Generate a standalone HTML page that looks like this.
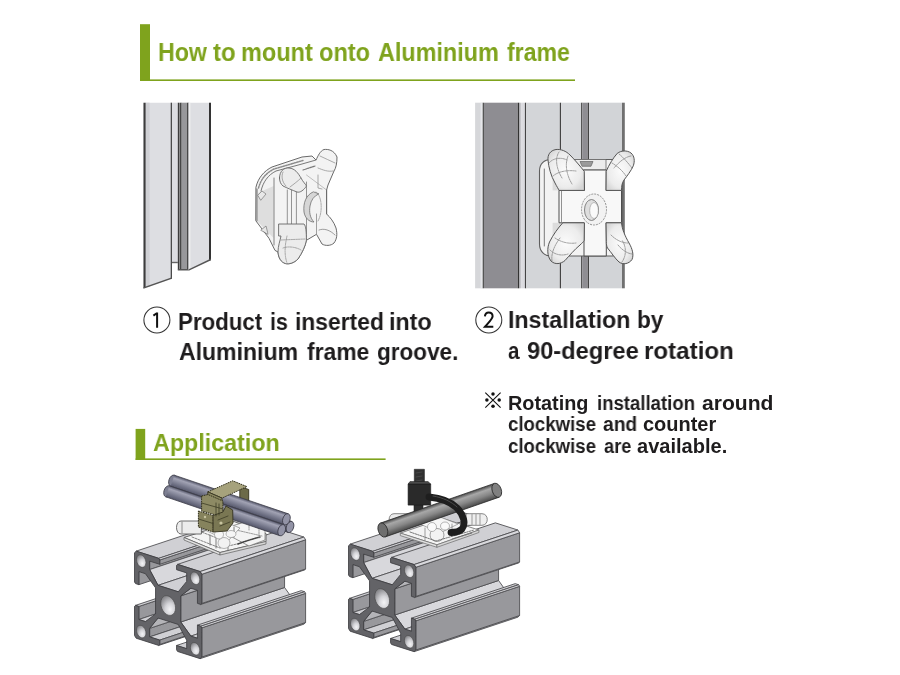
<!DOCTYPE html>
<html><head><meta charset="utf-8"><style>
html,body{margin:0;padding:0;background:#fff;}
body{width:900px;height:675px;position:relative;overflow:hidden;}
.t{position:absolute;white-space:nowrap;font-family:"Liberation Sans",sans-serif;line-height:1;transform-origin:0 0;-webkit-font-smoothing:antialiased;will-change:transform;}
svg{position:absolute;left:0;top:0;}
</style></head><body>
<svg width="900" height="675" viewBox="0 0 900 675">
<rect x="140" y="24.2" width="10" height="56.6" fill="#7fa31d"/>
<rect x="140" y="79.4" width="435" height="1.6" fill="#7fa31d"/>
<rect x="135.6" y="428.9" width="9.6" height="31" fill="#7fa31d"/>
<rect x="135.6" y="458.4" width="250" height="1.6" fill="#7fa31d"/>
<circle cx="156.9" cy="320.05" r="13.0" fill="none" stroke="#333" stroke-width="1.05"/>
<path d="M157.1 312.4 L157.1 327.7 M157.1 313 L153.4 315.6" stroke="#111" stroke-width="2" fill="none"/>
<circle cx="488.8" cy="320.0" r="13.0" fill="none" stroke="#333" stroke-width="1.05"/>
<path d="M484.9 316.3 C485.2 313.3 487.2 312.5 488.7 312.5 C491.2 312.5 492.6 314.2 492.6 316.2 C492.6 318.6 490.4 320.6 485.0 326.7 L493.3 326.7" stroke="#111" stroke-width="2" fill="none" stroke-linejoin="miter"/>
<path d="M485.3 392.6 L500.6 407.6 M500.6 392.6 L485.3 407.6" stroke="#111" stroke-width="1.1"/>
<circle cx="493" cy="394" r="1.75" fill="#111"/>
<circle cx="493" cy="406.3" r="1.75" fill="#111"/>
<circle cx="486.9" cy="400.1" r="1.75" fill="#111"/>
<circle cx="499.2" cy="400.1" r="1.75" fill="#111"/>
<polygon points="143.50,102.70 172.00,102.70 172.00,278.20 143.50,288.20" fill="#dddee2" />
<rect x="145.60" y="102.70" width="4.00" height="184.10" fill="#cfd0d4"/>
<polygon points="143.50,102.70 145.60,102.70 145.60,287.50 143.50,288.20" fill="#3c3c3c" />
<rect x="170.70" y="102.70" width="1.30" height="175.80" fill="#4a4a4a"/>
<polygon points="143.50,287.20 172.00,277.20 172.00,278.80 143.50,288.80" fill="#555" />
<rect x="172.00" y="102.70" width="5.80" height="160.30" fill="#dcdde1"/>
<rect x="172.00" y="261.80" width="5.80" height="1.40" fill="#666"/>
<rect x="177.80" y="102.70" width="1.20" height="166.80" fill="#3c3c3c"/>
<rect x="179.00" y="102.70" width="1.00" height="166.80" fill="#8a8a8a"/>
<rect x="180.00" y="102.70" width="1.70" height="166.80" fill="#474747"/>
<rect x="181.70" y="102.70" width="5.20" height="166.80" fill="#98989b"/>
<rect x="186.90" y="102.70" width="1.80" height="166.80" fill="#474747"/>
<polygon points="177.80,269.00 188.70,269.00 188.70,270.50 177.80,270.50" fill="#555" />
<polygon points="188.70,102.70 211.00,102.70 211.00,259.50 188.70,270.20" fill="#dddee2" />
<rect x="188.70" y="102.70" width="1.70" height="166.80" fill="#efeff0"/>
<polygon points="209.00,102.70 211.00,102.70 211.00,260.00 209.00,261.00" fill="#333" />
<polygon points="188.70,269.20 211.00,258.60 211.00,260.20 188.70,270.80" fill="#555" />
<rect x="475.10" y="102.70" width="7.60" height="185.60" fill="#d6d7da"/>
<rect x="480.60" y="102.70" width="2.10" height="185.60" fill="#e6e7ea"/>
<rect x="482.70" y="102.70" width="1.30" height="185.60" fill="#555"/>
<rect x="484.00" y="102.70" width="33.80" height="185.60" fill="#8e8d92"/>
<rect x="517.80" y="102.70" width="1.30" height="185.60" fill="#333"/>
<linearGradient id="bandg" x1="0" x2="1" y1="0" y2="0"><stop offset="0" stop-color="#9c9ca0"/><stop offset="0.4" stop-color="#dedee2"/><stop offset="1" stop-color="#d8d8dc"/></linearGradient>
<rect x="519.1" y="102.7" width="5.8" height="185.60" fill="url(#bandg)"/>
<rect x="524.90" y="102.70" width="1.30" height="185.60" fill="#444"/>
<rect x="526.20" y="102.70" width="33.60" height="185.60" fill="#d3d5d8"/>
<rect x="559.80" y="102.70" width="1.30" height="185.60" fill="#444"/>
<rect x="561.10" y="102.70" width="20.00" height="185.60" fill="#d7d9dc"/>
<rect x="581.10" y="102.70" width="1.30" height="185.60" fill="#444"/>
<rect x="582.40" y="102.70" width="5.40" height="185.60" fill="#8f8e93"/>
<rect x="587.80" y="102.70" width="1.30" height="185.60" fill="#444"/>
<rect x="589.10" y="102.70" width="32.90" height="185.60" fill="#d2d4d7"/>
<rect x="622.00" y="102.70" width="2.80" height="185.60" fill="#707070"/>
<defs><radialGradient id="holeg" cx="0.62" cy="0.7" r="0.7"><stop offset="0" stop-color="#f4f4f6"/><stop offset="0.45" stop-color="#d4d4d8"/><stop offset="1" stop-color="#8c8c90"/></radialGradient></defs>
<path d="M256,187 C258,178 264,171 272,167 L287,162 L302,157 L312,156 L316,160 C318,156 320,151 324,149.5 C328,149 334,150 337,157 C337,163 336,168 334,171 L328,185 L326.6,190 L326.6,214 C330,217 334,222 336,228 C337.5,234 337,239 334,243 C331,246 325,246 322,244 L316.5,234.3 L306.4,240.3 C305.5,246 302,253 298,259 C294,263 289,264.5 285.3,263.5 C281,262 278.5,258 278,252 L275,250.4 L269,238.3 L256,221 Z" fill="#f3f3f3" stroke="#6a6a6a" stroke-width="1.0" stroke-linejoin="round" stroke-linecap="round" />
<polygon points="258.00,193.00 273.50,186.00 273.50,238.00 258.00,222.00" fill="#dedede" stroke="none" stroke-width="0.8" stroke-linejoin="round" />
<path d="M274,178 L274,245" fill="none" stroke="#777" stroke-width="0.9" stroke-linejoin="round" stroke-linecap="round" />
<path d="M257,189 L257,221" fill="none" stroke="#6a6a6a" stroke-width="1.0" stroke-linejoin="round" stroke-linecap="round" />
<path d="M261,191 C263,182 268,175 276,171 L302,164 L316,160" fill="none" stroke="#6a6a6a" stroke-width="0.9" stroke-linejoin="round" stroke-linecap="round" />
<path d="M258.5,188 C261,179 266,173 274,169 L303,160.5" fill="none" stroke="#8a8a8a" stroke-width="1.4" stroke-linejoin="round" stroke-linecap="round" stroke-dasharray="1.5 1.2"/>
<path d="M258,195 L262,191 L266,194 L261,200 Z M261,230 L266,226 L268,234 Z" fill="#e8e8e8" stroke="#777" stroke-width="0.7" stroke-linejoin="round" stroke-linecap="round" />
<path d="M306.5,175 L326.6,190" fill="none" stroke="#999" stroke-width="0.6" stroke-linejoin="round" stroke-linecap="round" />
<path d="M287.3,190 L287.3,227 M296.4,191 L296.4,227 M291.5,190 L291.5,227" fill="none" stroke="#7a7a7a" stroke-width="0.8" stroke-linejoin="round" stroke-linecap="round" />
<path d="M306.5,182 L306.5,240" fill="none" stroke="#7a7a7a" stroke-width="0.8" stroke-linejoin="round" stroke-linecap="round" />
<path d="M326.6,190 L326.6,214" fill="none" stroke="#6a6a6a" stroke-width="0.9" stroke-linejoin="round" stroke-linecap="round" />
<path d="M313,192 C306,195 303,203 304,212 C305,218 309,222 314,222 C310,218 309,212 310,206 C311,200 314,196 318.5,194 Z" fill="#d6d6d6" stroke="#6e6e6e" stroke-width="0.8" stroke-linejoin="round" stroke-linecap="round" />
<path d="M316,192 C322,196 323,212 318,221" fill="none" stroke="#888" stroke-width="0.7" stroke-linejoin="round" stroke-linecap="round" stroke-dasharray="1.5 1"/>
<path d="M279.5,178 C279.5,171 284,167.5 289,168 C295,168.5 298,173 301,178 C303,182 305.5,184 306.5,186 C304,190 300,193 297,192 C292,190 287,188 283,186 C280.5,184 279.5,181 279.5,178 Z" fill="#ececec" stroke="#666" stroke-width="0.9" stroke-linejoin="round" stroke-linecap="round" />
<path d="M283,172 C281,176 282,182 286,186 M290,187 C294,184 298,181 301,178" fill="none" stroke="#888" stroke-width="0.7" stroke-linejoin="round" stroke-linecap="round" />
<path d="M279,224 L304,224 C306,226 306.4,232 306.4,240.3 C305.5,246 302,253 298,259 C294,263 289,264.5 285.3,263.5 C281,262 278.5,258 278,252 C278,246 280,241 281,236 L279,236 Z" fill="#ececec" stroke="#666" stroke-width="0.9" stroke-linejoin="round" stroke-linecap="round" />
<path d="M281,240 L305,239 M283,248 C288,246 296,247 301,250 M287,236 C285,245 284,254 287,263" fill="none" stroke="#888" stroke-width="0.7" stroke-linejoin="round" stroke-linecap="round" stroke-dasharray="1.5 1"/>
<path d="M318,175 L318,188 L322,189 M320,156 C325,158 330,161 335,163 M318,168 C323,170 328,172 333,171" fill="none" stroke="#888" stroke-width="0.7" stroke-linejoin="round" stroke-linecap="round" />
<path d="M303,170 L315,166" fill="none" stroke="#777" stroke-width="1.2" stroke-linejoin="round" stroke-linecap="round" stroke-dasharray="1.5 1"/>
<path d="M316.5,214 L316.5,234.3 M319,230 C324,228 330,230 335,235" fill="none" stroke="#888" stroke-width="0.8" stroke-linejoin="round" stroke-linecap="round" />
<radialGradient id="armg" cx="0.5" cy="0.5" r="0.6"><stop offset="0" stop-color="#fbfbfb"/><stop offset="0.7" stop-color="#ececec"/><stop offset="1" stop-color="#d6d6d6"/></radialGradient>
<path d="M551,159.5 L612,159.5 C618,159.5 622,163 622,169 L622,247 C622,252 618,256 612,256 L551,256 C544,256 539.5,251 539.5,244 L539.5,171 C539.5,164 544,159.5 551,159.5 Z" fill="#f3f3f3" stroke="#5e5e5e" stroke-width="1.1" stroke-linejoin="round" stroke-linecap="round" />
<path d="M544.3,169 L544.3,246" fill="none" stroke="#6a6a6a" stroke-width="0.9" stroke-linejoin="round" stroke-linecap="round" />
<polygon points="568.00,159.50 606.00,159.50 606.00,170.00 568.00,170.00" fill="#ececec" stroke="#666" stroke-width="0.8" stroke-linejoin="round" />
<polygon points="580.00,161.50 593.00,161.50 591.00,166.30 582.00,166.30" fill="#9a9a9a" stroke="#555" stroke-width="0.6" stroke-linejoin="round" />
<polygon points="552.60,177.40 562.80,177.40 562.80,190.40 552.60,190.40" fill="#dcdcdc" stroke="none" stroke-width="0.8" stroke-linejoin="round" />
<polygon points="552.60,222.80 562.80,222.80 562.80,236.00 552.60,236.00" fill="#dcdcdc" stroke="none" stroke-width="0.8" stroke-linejoin="round" />
<path d="M584,170 L606.3,170 L606.3,190.4 L621.5,190.4 L621.5,222.8 L606.3,222.8 L606.3,256 L584,256 L584,222.8 L559,222.8 L559,190.4 L584,190.4 Z" fill="#f8f8f8" stroke="#4e4e4e" stroke-width="1.0" stroke-linejoin="round" stroke-linecap="round" />
<path d="M561.5,191 L561.5,222" fill="none" stroke="#777" stroke-width="0.8" stroke-linejoin="round" stroke-linecap="round" />
<ellipse cx="594" cy="209.5" rx="12.5" ry="15.5" fill="#f2f2f2" stroke="#7a7a7a" stroke-width="0.8" stroke-dasharray="2 1"/>
<ellipse cx="591.5" cy="210" rx="7" ry="10.5" fill="#dedede" stroke="#6a6a6a" stroke-width="0.8"/>
<ellipse cx="594" cy="210.5" rx="4.3" ry="8" fill="#fafafa" stroke="#888" stroke-width="0.5"/>
<path d="M584,171 C580,166 575,160 570,155 C566,151 561,149 556,149.5 C550,150.5 547.5,155 548,160 C548.5,167 551,176 555,183 C557,187 558.5,189 559,190.4 L584,190.4 Z" fill="url(#armg)" stroke="#555" stroke-width="1.0" stroke-linejoin="round" stroke-linecap="round" />
<path d="M606.3,171 C609,165 613,158 617.3,153.3 C621,150.5 627,150 631,153 C634.5,156 635,161 633.3,165.8 C631,171 627,176 624,180 C622,183 621.5,186 621.5,190.4 L606.3,190.4 Z" fill="url(#armg)" stroke="#555" stroke-width="1.0" stroke-linejoin="round" stroke-linecap="round" />
<path d="M584,222.8 L562.8,222.8 C558,228 553,235 549.5,242 C547,248 547,256 551,261 C555,265 561,264 565,260.5 C569,256 575,249 580,245 C582,243 583.5,242 584,240.7 Z" fill="url(#armg)" stroke="#555" stroke-width="1.0" stroke-linejoin="round" stroke-linecap="round" />
<path d="M606.3,222.8 L621.5,222.8 C622,229 625,236 629,243 C632.5,249 634,255 632,259.5 C629,264 623,265 619,262 C615,258.5 611,252 607.5,248 C606.5,246 606.3,244 606.3,242 Z" fill="url(#armg)" stroke="#555" stroke-width="1.0" stroke-linejoin="round" stroke-linecap="round" />
<path d="M549,163 C553,158 561,157 567,160" fill="none" stroke="#7a7a7a" stroke-width="0.7" stroke-linejoin="round" stroke-linecap="round" stroke-dasharray="1.6 1"/>
<path d="M553,176 C559,171 568,170 576,171" fill="none" stroke="#7a7a7a" stroke-width="0.7" stroke-linejoin="round" stroke-linecap="round" stroke-dasharray="1.6 1"/>
<path d="M559,152 C555,158 556,168 562,178" fill="none" stroke="#7a7a7a" stroke-width="0.7" stroke-linejoin="round" stroke-linecap="round" stroke-dasharray="1.6 1"/>
<path d="M568,156 C565,164 566,174 572,184" fill="none" stroke="#7a7a7a" stroke-width="0.7" stroke-linejoin="round" stroke-linecap="round" stroke-dasharray="1.6 1"/>
<path d="M619,154 C624,158 628,163 632,168" fill="none" stroke="#7a7a7a" stroke-width="0.7" stroke-linejoin="round" stroke-linecap="round" stroke-dasharray="1.6 1"/>
<path d="M612,163 C617,166 622,170 626,176" fill="none" stroke="#7a7a7a" stroke-width="0.7" stroke-linejoin="round" stroke-linecap="round" stroke-dasharray="1.6 1"/>
<path d="M631,156 C625,157 619,162 614,168" fill="none" stroke="#7a7a7a" stroke-width="0.7" stroke-linejoin="round" stroke-linecap="round" stroke-dasharray="1.6 1"/>
<path d="M550,250 C555,255 562,256 568,254" fill="none" stroke="#7a7a7a" stroke-width="0.7" stroke-linejoin="round" stroke-linecap="round" stroke-dasharray="1.6 1"/>
<path d="M555,238 C561,242 568,244 576,243" fill="none" stroke="#7a7a7a" stroke-width="0.7" stroke-linejoin="round" stroke-linecap="round" stroke-dasharray="1.6 1"/>
<path d="M552,261 C551,254 554,246 560,238" fill="none" stroke="#7a7a7a" stroke-width="0.7" stroke-linejoin="round" stroke-linecap="round" stroke-dasharray="1.6 1"/>
<path d="M618,245 C622,250 628,254 633,254" fill="none" stroke="#7a7a7a" stroke-width="0.7" stroke-linejoin="round" stroke-linecap="round" stroke-dasharray="1.6 1"/>
<path d="M611,235 C616,240 622,243 628,243" fill="none" stroke="#7a7a7a" stroke-width="0.7" stroke-linejoin="round" stroke-linecap="round" stroke-dasharray="1.6 1"/>
<path d="M622,262 C626,256 627,248 622,240" fill="none" stroke="#7a7a7a" stroke-width="0.7" stroke-linejoin="round" stroke-linecap="round" stroke-dasharray="1.6 1"/>
<polygon points="138.87,606.44 138.87,619.50 242.67,585.00 242.67,571.94" fill="#98989c" stroke="#505054" stroke-width="0.9" stroke-linejoin="round"/>
<polygon points="135.51,605.36 138.87,606.44 242.67,571.94 239.31,570.86" fill="#d0d0d4" stroke="#505054" stroke-width="0.9" stroke-linejoin="round"/>
<polygon points="138.87,619.50 145.44,621.60 249.24,587.10 242.67,585.00" fill="#d0d0d4" stroke="#505054" stroke-width="0.9" stroke-linejoin="round"/>
<polygon points="149.64,628.38 149.64,636.88 253.44,602.38 253.44,593.88" fill="#98989c" stroke="#505054" stroke-width="0.9" stroke-linejoin="round"/>
<polygon points="149.64,636.88 159.74,640.10 263.54,605.60 253.44,602.38" fill="#d0d0d4" stroke="#505054" stroke-width="0.9" stroke-linejoin="round"/>
<polygon points="138.87,571.60 138.87,584.66 242.67,550.16 242.67,537.10" fill="#98989c" stroke="#505054" stroke-width="0.9" stroke-linejoin="round"/>
<polygon points="159.74,644.46 158.73,645.44 262.53,610.94 263.54,609.96" fill="#b4b4b8" stroke="#505054" stroke-width="0.9" stroke-linejoin="round"/>
<polygon points="158.06,618.01 149.64,628.38 253.44,593.88 261.86,583.51" fill="#b4b4b8" stroke="#505054" stroke-width="0.9" stroke-linejoin="round"/>
<polygon points="159.74,640.10 159.74,644.46 263.54,609.96 263.54,605.60" fill="#98989c" stroke="#505054" stroke-width="0.9" stroke-linejoin="round"/>
<polygon points="149.64,561.10 149.64,569.59 253.44,535.09 253.44,526.60" fill="#98989c" stroke="#505054" stroke-width="0.9" stroke-linejoin="round"/>
<polygon points="149.64,569.59 158.06,585.34 261.86,550.84 253.44,535.09" fill="#d8d8dc" stroke="#505054" stroke-width="0.9" stroke-linejoin="round"/>
<polygon points="136.18,551.14 158.73,558.34 262.53,523.84 239.98,516.64" fill="#d0d0d4" stroke="#505054" stroke-width="0.9" stroke-linejoin="round"/>
<polygon points="176.56,645.48 186.66,648.70 290.46,614.20 280.36,610.98" fill="#d0d0d4" stroke="#505054" stroke-width="0.9" stroke-linejoin="round"/>
<polygon points="159.74,559.97 159.74,564.32 263.54,529.82 263.54,525.47" fill="#98989c" stroke="#505054" stroke-width="0.9" stroke-linejoin="round"/>
<polygon points="158.73,558.34 159.74,559.97 263.54,525.47 262.53,523.84" fill="#d8d8dc" stroke="#505054" stroke-width="0.9" stroke-linejoin="round"/>
<polygon points="158.06,585.34 178.25,591.79 282.05,557.29 261.86,550.84" fill="#d0d0d4" stroke="#505054" stroke-width="0.9" stroke-linejoin="round"/>
<polygon points="180.77,622.00 190.86,636.11 294.66,601.61 284.57,587.50" fill="#d8d8dc" stroke="#505054" stroke-width="0.9" stroke-linejoin="round"/>
<polygon points="180.77,595.87 180.77,622.00 284.57,587.50 284.57,561.37" fill="#98989c" stroke="#505054" stroke-width="0.9" stroke-linejoin="round"/>
<polygon points="190.86,636.11 197.43,638.21 301.23,603.71 294.66,601.61" fill="#d0d0d4" stroke="#505054" stroke-width="0.9" stroke-linejoin="round"/>
<polygon points="201.80,657.02 200.12,658.66 303.92,624.16 305.60,622.52" fill="#b4b4b8" stroke="#505054" stroke-width="0.9" stroke-linejoin="round"/>
<polygon points="190.86,588.20 180.77,595.87 284.57,561.37 294.66,553.70" fill="#b4b4b8" stroke="#505054" stroke-width="0.9" stroke-linejoin="round"/>
<polygon points="201.80,627.84 201.80,657.02 305.60,622.52 305.60,593.34" fill="#98989c" stroke="#505054" stroke-width="0.9" stroke-linejoin="round"/>
<polygon points="197.43,625.14 200.79,626.22 304.59,591.72 301.23,590.64" fill="#d0d0d4" stroke="#505054" stroke-width="0.9" stroke-linejoin="round"/>
<polygon points="200.79,626.22 201.80,627.84 305.60,593.34 304.59,591.72" fill="#d8d8dc" stroke="#505054" stroke-width="0.9" stroke-linejoin="round"/>
<polygon points="177.57,564.36 200.12,571.56 303.92,537.06 281.37,529.86" fill="#d0d0d4" stroke="#505054" stroke-width="0.9" stroke-linejoin="round"/>
<polygon points="201.80,603.46 200.79,604.44 304.59,569.94 305.60,568.96" fill="#b4b4b8" stroke="#505054" stroke-width="0.9" stroke-linejoin="round"/>
<polygon points="201.80,574.28 201.80,603.46 305.60,568.96 305.60,539.78" fill="#98989c" stroke="#505054" stroke-width="0.9" stroke-linejoin="round"/>
<polygon points="200.12,571.56 201.80,574.28 305.60,539.78 303.92,537.06" fill="#d8d8dc" stroke="#505054" stroke-width="0.9" stroke-linejoin="round"/>
<path d="M134.50,552.78 L136.18,551.14 L158.73,558.34 L159.74,559.97 L159.74,564.32 L149.64,561.10 L149.64,569.59 L158.06,585.34 L178.25,591.79 L186.66,581.42 L186.66,572.92 L176.56,569.70 L176.56,565.34 L177.57,564.36 L200.12,571.56 L201.80,574.28 L201.80,603.46 L200.79,604.44 L197.43,603.37 L197.43,590.30 L190.86,588.20 L180.77,595.87 L180.77,622.00 L190.86,636.11 L197.43,638.21 L197.43,625.14 L200.79,626.22 L201.80,627.84 L201.80,657.02 L200.12,658.66 L177.57,651.46 L176.56,649.83 L176.56,645.48 L186.66,648.70 L186.66,640.21 L178.25,624.46 L158.06,618.01 L149.64,628.38 L149.64,636.88 L159.74,640.10 L159.74,644.46 L158.73,645.44 L136.18,638.24 L134.50,635.52 L134.50,606.34 L135.51,605.36 L138.87,606.44 L138.87,619.50 L145.44,621.60 L155.53,613.93 L155.53,587.80 L145.44,573.69 L138.87,571.60 L138.87,584.66 L135.51,583.59 L134.50,581.96 Z" fill="#636367" stroke="#3a3a3e" stroke-width="0.8" stroke-linejoin="round"/>
<path d="M145.94,562.53 L145.78,564.06 L145.31,565.38 L144.56,566.40 L143.59,567.06 L142.45,567.30 L141.23,567.12 L140.01,566.52 L138.87,565.55 L137.90,564.27 L137.15,562.77 L136.68,561.15 L136.52,559.52 L136.68,557.99 L137.15,556.67 L137.90,555.65 L138.87,554.99 L140.01,554.75 L141.23,554.93 L142.45,555.52 L143.59,556.50 L144.56,557.78 L145.31,559.28 L145.78,560.90 Z" fill="url(#holeg)" stroke="#444" stroke-width="0.6"/>
<path d="M199.78,579.73 L199.62,581.26 L199.15,582.58 L198.40,583.60 L197.43,584.26 L196.29,584.50 L195.07,584.32 L193.85,583.72 L192.71,582.75 L191.74,581.47 L190.99,579.97 L190.52,578.35 L190.36,576.72 L190.52,575.19 L190.99,573.87 L191.74,572.85 L192.71,572.19 L193.85,571.95 L195.07,572.13 L196.29,572.72 L197.43,573.70 L198.40,574.98 L199.15,576.48 L199.62,578.10 Z" fill="url(#holeg)" stroke="#444" stroke-width="0.6"/>
<path d="M145.94,633.08 L145.78,634.61 L145.31,635.93 L144.56,636.95 L143.59,637.61 L142.45,637.85 L141.23,637.67 L140.01,637.08 L138.87,636.10 L137.90,634.82 L137.15,633.32 L136.68,631.70 L136.52,630.07 L136.68,628.54 L137.15,627.22 L137.90,626.20 L138.87,625.54 L140.01,625.30 L141.23,625.48 L142.45,626.08 L143.59,627.05 L144.56,628.33 L145.31,629.83 L145.78,631.45 Z" fill="url(#holeg)" stroke="#444" stroke-width="0.6"/>
<path d="M199.78,650.28 L199.62,651.81 L199.15,653.13 L198.40,654.15 L197.43,654.81 L196.29,655.05 L195.07,654.87 L193.85,654.28 L192.71,653.30 L191.74,652.02 L190.99,650.52 L190.52,648.90 L190.36,647.27 L190.52,645.74 L190.99,644.42 L191.74,643.40 L192.71,642.74 L193.85,642.50 L195.07,642.68 L196.29,643.28 L197.43,644.25 L198.40,645.53 L199.15,647.03 L199.62,648.65 Z" fill="url(#holeg)" stroke="#444" stroke-width="0.6"/>
<path d="M175.55,607.92 L175.30,610.32 L174.56,612.39 L173.38,614.00 L171.85,615.03 L170.07,615.42 L168.15,615.13 L166.23,614.20 L164.45,612.67 L162.92,610.66 L161.74,608.30 L161.00,605.75 L160.75,603.19 L161.00,600.79 L161.74,598.71 L162.92,597.11 L164.45,596.07 L166.23,595.69 L168.15,595.97 L170.07,596.91 L171.85,598.44 L173.38,600.45 L174.56,602.81 L175.30,605.36 Z" fill="url(#holeg)" stroke="#444" stroke-width="0.6"/>
<polygon points="184.00,537.50 220.00,552.50 266.00,541.50 266.00,533.50 234.00,521.50" fill="#f5f5f5" stroke="#5a5a5a" stroke-width="0.9" stroke-linejoin="round" />
<polygon points="184.00,537.50 220.00,552.50 220.00,555.00 184.00,540.00" fill="#e2e2e2" stroke="#5e5e5e" stroke-width="0.7" stroke-linejoin="round" />
<polygon points="220.00,552.50 266.00,541.50 266.00,544.00 220.00,555.00" fill="#d8d8d8" stroke="#5e5e5e" stroke-width="0.7" stroke-linejoin="round" />
<path d="M192,537 L220,548 L262,538 M199,531 L222,540 L247,532" fill="none" stroke="#6a6a6a" stroke-width="0.8" stroke-linejoin="round" stroke-linecap="round" stroke-dasharray="2 1.2"/>
<path d="M201,521 L181,521 C175,521 175,534 181,534 L201,534 Z" fill="#ececec" stroke="#5e5e5e" stroke-width="0.9" stroke-linejoin="round" stroke-linecap="round" />
<path d="M182,522 L182,533" fill="none" stroke="#777" stroke-width="0.8" stroke-linejoin="round" stroke-linecap="round" />
<polygon points="232.00,526.00 248.00,521.00 265.00,530.00 265.00,540.00 249.00,546.00 232.00,537.00" fill="#f4f4f4" stroke="#6a6a6a" stroke-width="0.7" stroke-linejoin="round" />
<path d="M238,544 C243,542 252,539 260,537" fill="none" stroke="#444" stroke-width="1.5" stroke-linejoin="round" stroke-linecap="round" stroke-dasharray="1.5 1"/>
<path d="M236,530 L262,536 M249,521 L249,530 M259,527 L259,538" fill="none" stroke="#777" stroke-width="0.7" stroke-linejoin="round" stroke-linecap="round" stroke-dasharray="1.6 1"/>
<polygon points="205.00,530.00 225.00,522.00 240.00,528.00 228.00,541.00" fill="#f7f7f7" stroke="#777" stroke-width="0.6" stroke-linejoin="round" />
<path d="M210,535 L210,545 M216,538 L216,548 M228,541 L228,550 M234,527 L234,537" fill="none" stroke="#5e5e5e" stroke-width="0.8" stroke-linejoin="round" stroke-linecap="round" />
<ellipse cx="224" cy="543" rx="6" ry="5.5" fill="#f2f2f2" stroke="#888" stroke-width="0.6"/>
<ellipse cx="219" cy="534.5" rx="4.5" ry="4.5" fill="#f6f6f6" stroke="#888" stroke-width="0.6"/>
<ellipse cx="231" cy="534" rx="5" ry="3.5" fill="#f6f6f6" stroke="#888" stroke-width="0.6"/>
<linearGradient id="rod1" gradientUnits="userSpaceOnUse" x1="235.39" y1="502.02" x2="231.61" y2="512.98"><stop offset="0" stop-color="#54566a"/><stop offset="0.25" stop-color="#a2a3b4"/><stop offset="0.6" stop-color="#7d7f92"/><stop offset="1" stop-color="#54566a"/></linearGradient>
<ellipse cx="177.00" cy="488.00" rx="3.60" ry="5.80" transform="rotate(19.04 177.00 488.00)" fill="#7d7f92" stroke="#3c3c48" stroke-width="0.8"/>
<polygon points="175.11,493.48 288.11,532.48 291.89,521.52 178.89,482.52" fill="url(#rod1)"/>
<path d="M175.11,493.48 L288.11,532.48 M291.89,521.52 L178.89,482.52" stroke="#3c3c48" stroke-width="0.8"/>
<ellipse cx="290.00" cy="527.00" rx="3.60" ry="5.80" transform="rotate(19.04 290.00 527.00)" fill="#9293a6" stroke="#3c3c48" stroke-width="0.8"/>
<polygon points="239.80,486.60 248.70,489.50 248.70,503.50 239.80,501.00" fill="#6c6a48" stroke="#34321e" stroke-width="0.9" stroke-linejoin="round" />
<linearGradient id="rod2" gradientUnits="userSpaceOnUse" x1="231.31" y1="494.51" x2="227.59" y2="505.49"><stop offset="0" stop-color="#54566a"/><stop offset="0.25" stop-color="#a2a3b4"/><stop offset="0.6" stop-color="#7d7f92"/><stop offset="1" stop-color="#54566a"/></linearGradient>
<ellipse cx="172.50" cy="480.70" rx="3.60" ry="5.80" transform="rotate(18.72 172.50 480.70)" fill="#7d7f92" stroke="#3c3c48" stroke-width="0.8"/>
<polygon points="170.64,486.19 284.54,524.79 288.26,513.81 174.36,475.21" fill="url(#rod2)"/>
<path d="M170.64,486.19 L284.54,524.79 M288.26,513.81 L174.36,475.21" stroke="#3c3c48" stroke-width="0.8"/>
<ellipse cx="286.40" cy="519.30" rx="3.60" ry="5.80" transform="rotate(18.72 286.40 519.30)" fill="#9293a6" stroke="#3c3c48" stroke-width="0.8"/>
<linearGradient id="rod3" gradientUnits="userSpaceOnUse" x1="226.52" y1="505.26" x2="222.78" y2="516.24"><stop offset="0" stop-color="#54566a"/><stop offset="0.25" stop-color="#a2a3b4"/><stop offset="0.6" stop-color="#7d7f92"/><stop offset="1" stop-color="#54566a"/></linearGradient>
<ellipse cx="167.60" cy="491.30" rx="3.60" ry="5.80" transform="rotate(18.83 167.60 491.30)" fill="#7d7f92" stroke="#3c3c48" stroke-width="0.8"/>
<polygon points="165.73,496.79 279.83,535.69 283.57,524.71 169.47,485.81" fill="url(#rod3)"/>
<path d="M165.73,496.79 L279.83,535.69 M283.57,524.71 L169.47,485.81" stroke="#3c3c48" stroke-width="0.8"/>
<ellipse cx="281.70" cy="530.20" rx="3.60" ry="5.80" transform="rotate(18.83 281.70 530.20)" fill="#9293a6" stroke="#3c3c48" stroke-width="0.8"/>
<polygon points="207.80,491.90 232.70,480.80 246.90,486.60 222.00,498.10" fill="#a6a27c" stroke="#34321e" stroke-width="1.0" stroke-linejoin="round" stroke-dasharray="1.6 0.8"/>
<polygon points="207.80,491.90 222.00,498.10 222.00,502.00 207.80,495.80" fill="#8a875f" stroke="#34321e" stroke-width="0.9" stroke-linejoin="round" />
<polygon points="201.60,496.00 208.00,494.50 222.90,501.00 222.90,517.00 201.60,511.00" fill="#8d8a64" stroke="#34321e" stroke-width="1.0" stroke-linejoin="round" stroke-dasharray="1.6 0.8"/>
<polygon points="198.40,511.00 213.10,515.50 213.10,532.00 198.40,527.00" fill="#86835d" stroke="#34321e" stroke-width="1.0" stroke-linejoin="round" stroke-dasharray="1.6 0.8"/>
<polygon points="213.10,515.50 222.90,512.00 226.00,506.00 232.70,510.00 233.00,523.00 227.00,531.00 213.10,532.00" fill="#7a7753" stroke="#34321e" stroke-width="0.9" stroke-linejoin="round" />
<path d="M216,503 L216,516 M219,504 L219,515 M201.6,503 L222.9,509 M198.4,519 L213.1,523.5 M218,520 L228,516 M220,526 L230,522" fill="none" stroke="#3e3c26" stroke-width="0.8" stroke-linejoin="round" stroke-linecap="round" />
<circle cx="221" cy="523" r="1.6" fill="#c8c4a0"/>
<circle cx="205" cy="517" r="1.2" fill="#c8c4a0"/>
<polygon points="352.87,599.44 352.87,612.50 456.67,578.00 456.67,564.94" fill="#98989c" stroke="#505054" stroke-width="0.9" stroke-linejoin="round"/>
<polygon points="349.51,598.36 352.87,599.44 456.67,564.94 453.31,563.86" fill="#d0d0d4" stroke="#505054" stroke-width="0.9" stroke-linejoin="round"/>
<polygon points="352.87,612.50 359.44,614.60 463.24,580.10 456.67,578.00" fill="#d0d0d4" stroke="#505054" stroke-width="0.9" stroke-linejoin="round"/>
<polygon points="363.64,621.38 363.64,629.88 467.44,595.38 467.44,586.88" fill="#98989c" stroke="#505054" stroke-width="0.9" stroke-linejoin="round"/>
<polygon points="363.64,629.88 373.74,633.10 477.54,598.60 467.44,595.38" fill="#d0d0d4" stroke="#505054" stroke-width="0.9" stroke-linejoin="round"/>
<polygon points="352.87,564.60 352.87,577.66 456.67,543.16 456.67,530.10" fill="#98989c" stroke="#505054" stroke-width="0.9" stroke-linejoin="round"/>
<polygon points="373.74,637.46 372.73,638.44 476.53,603.94 477.54,602.96" fill="#b4b4b8" stroke="#505054" stroke-width="0.9" stroke-linejoin="round"/>
<polygon points="372.06,611.01 363.64,621.38 467.44,586.88 475.86,576.51" fill="#b4b4b8" stroke="#505054" stroke-width="0.9" stroke-linejoin="round"/>
<polygon points="373.74,633.10 373.74,637.46 477.54,602.96 477.54,598.60" fill="#98989c" stroke="#505054" stroke-width="0.9" stroke-linejoin="round"/>
<polygon points="363.64,554.10 363.64,562.59 467.44,528.09 467.44,519.60" fill="#98989c" stroke="#505054" stroke-width="0.9" stroke-linejoin="round"/>
<polygon points="363.64,562.59 372.06,578.34 475.86,543.84 467.44,528.09" fill="#d8d8dc" stroke="#505054" stroke-width="0.9" stroke-linejoin="round"/>
<polygon points="350.18,544.14 372.73,551.34 476.53,516.84 453.98,509.64" fill="#d0d0d4" stroke="#505054" stroke-width="0.9" stroke-linejoin="round"/>
<polygon points="390.56,638.48 400.66,641.70 504.46,607.20 494.36,603.98" fill="#d0d0d4" stroke="#505054" stroke-width="0.9" stroke-linejoin="round"/>
<polygon points="373.74,552.97 373.74,557.32 477.54,522.82 477.54,518.47" fill="#98989c" stroke="#505054" stroke-width="0.9" stroke-linejoin="round"/>
<polygon points="372.73,551.34 373.74,552.97 477.54,518.47 476.53,516.84" fill="#d8d8dc" stroke="#505054" stroke-width="0.9" stroke-linejoin="round"/>
<polygon points="372.06,578.34 392.25,584.79 496.05,550.29 475.86,543.84" fill="#d0d0d4" stroke="#505054" stroke-width="0.9" stroke-linejoin="round"/>
<polygon points="394.77,615.00 404.86,629.11 508.66,594.61 498.57,580.50" fill="#d8d8dc" stroke="#505054" stroke-width="0.9" stroke-linejoin="round"/>
<polygon points="394.77,588.87 394.77,615.00 498.57,580.50 498.57,554.37" fill="#98989c" stroke="#505054" stroke-width="0.9" stroke-linejoin="round"/>
<polygon points="404.86,629.11 411.43,631.21 515.23,596.71 508.66,594.61" fill="#d0d0d4" stroke="#505054" stroke-width="0.9" stroke-linejoin="round"/>
<polygon points="415.80,650.02 414.12,651.66 517.92,617.16 519.60,615.52" fill="#b4b4b8" stroke="#505054" stroke-width="0.9" stroke-linejoin="round"/>
<polygon points="404.86,581.20 394.77,588.87 498.57,554.37 508.66,546.70" fill="#b4b4b8" stroke="#505054" stroke-width="0.9" stroke-linejoin="round"/>
<polygon points="415.80,620.84 415.80,650.02 519.60,615.52 519.60,586.34" fill="#98989c" stroke="#505054" stroke-width="0.9" stroke-linejoin="round"/>
<polygon points="411.43,618.14 414.79,619.22 518.59,584.72 515.23,583.64" fill="#d0d0d4" stroke="#505054" stroke-width="0.9" stroke-linejoin="round"/>
<polygon points="414.79,619.22 415.80,620.84 519.60,586.34 518.59,584.72" fill="#d8d8dc" stroke="#505054" stroke-width="0.9" stroke-linejoin="round"/>
<polygon points="391.57,557.36 414.12,564.56 517.92,530.06 495.37,522.86" fill="#d0d0d4" stroke="#505054" stroke-width="0.9" stroke-linejoin="round"/>
<polygon points="415.80,596.46 414.79,597.44 518.59,562.94 519.60,561.96" fill="#b4b4b8" stroke="#505054" stroke-width="0.9" stroke-linejoin="round"/>
<polygon points="415.80,567.28 415.80,596.46 519.60,561.96 519.60,532.78" fill="#98989c" stroke="#505054" stroke-width="0.9" stroke-linejoin="round"/>
<polygon points="414.12,564.56 415.80,567.28 519.60,532.78 517.92,530.06" fill="#d8d8dc" stroke="#505054" stroke-width="0.9" stroke-linejoin="round"/>
<path d="M348.50,545.78 L350.18,544.14 L372.73,551.34 L373.74,552.97 L373.74,557.32 L363.64,554.10 L363.64,562.59 L372.06,578.34 L392.25,584.79 L400.66,574.42 L400.66,565.92 L390.56,562.70 L390.56,558.34 L391.57,557.36 L414.12,564.56 L415.80,567.28 L415.80,596.46 L414.79,597.44 L411.43,596.37 L411.43,583.30 L404.86,581.20 L394.77,588.87 L394.77,615.00 L404.86,629.11 L411.43,631.21 L411.43,618.14 L414.79,619.22 L415.80,620.84 L415.80,650.02 L414.12,651.66 L391.57,644.46 L390.56,642.83 L390.56,638.48 L400.66,641.70 L400.66,633.21 L392.25,617.46 L372.06,611.01 L363.64,621.38 L363.64,629.88 L373.74,633.10 L373.74,637.46 L372.73,638.44 L350.18,631.24 L348.50,628.52 L348.50,599.34 L349.51,598.36 L352.87,599.44 L352.87,612.50 L359.44,614.60 L369.53,606.93 L369.53,580.80 L359.44,566.69 L352.87,564.60 L352.87,577.66 L349.51,576.59 L348.50,574.96 Z" fill="#636367" stroke="#3a3a3e" stroke-width="0.8" stroke-linejoin="round"/>
<path d="M359.94,555.53 L359.78,557.06 L359.31,558.38 L358.56,559.40 L357.59,560.06 L356.45,560.30 L355.23,560.12 L354.01,559.52 L352.87,558.55 L351.90,557.27 L351.15,555.77 L350.68,554.15 L350.52,552.52 L350.68,550.99 L351.15,549.67 L351.90,548.65 L352.87,547.99 L354.01,547.75 L355.23,547.93 L356.45,548.52 L357.59,549.50 L358.56,550.78 L359.31,552.28 L359.78,553.90 Z" fill="url(#holeg)" stroke="#444" stroke-width="0.6"/>
<path d="M413.78,572.73 L413.62,574.26 L413.15,575.58 L412.40,576.60 L411.43,577.26 L410.29,577.50 L409.07,577.32 L407.85,576.72 L406.71,575.75 L405.74,574.47 L404.99,572.97 L404.52,571.35 L404.36,569.72 L404.52,568.19 L404.99,566.87 L405.74,565.85 L406.71,565.19 L407.85,564.95 L409.07,565.13 L410.29,565.72 L411.43,566.70 L412.40,567.98 L413.15,569.48 L413.62,571.10 Z" fill="url(#holeg)" stroke="#444" stroke-width="0.6"/>
<path d="M359.94,626.08 L359.78,627.61 L359.31,628.93 L358.56,629.95 L357.59,630.61 L356.45,630.85 L355.23,630.67 L354.01,630.08 L352.87,629.10 L351.90,627.82 L351.15,626.32 L350.68,624.70 L350.52,623.07 L350.68,621.54 L351.15,620.22 L351.90,619.20 L352.87,618.54 L354.01,618.30 L355.23,618.48 L356.45,619.08 L357.59,620.05 L358.56,621.33 L359.31,622.83 L359.78,624.45 Z" fill="url(#holeg)" stroke="#444" stroke-width="0.6"/>
<path d="M413.78,643.28 L413.62,644.81 L413.15,646.13 L412.40,647.15 L411.43,647.81 L410.29,648.05 L409.07,647.87 L407.85,647.28 L406.71,646.30 L405.74,645.02 L404.99,643.52 L404.52,641.90 L404.36,640.27 L404.52,638.74 L404.99,637.42 L405.74,636.40 L406.71,635.74 L407.85,635.50 L409.07,635.68 L410.29,636.28 L411.43,637.25 L412.40,638.53 L413.15,640.03 L413.62,641.65 Z" fill="url(#holeg)" stroke="#444" stroke-width="0.6"/>
<path d="M389.55,600.92 L389.30,603.32 L388.56,605.39 L387.38,607.00 L385.85,608.03 L384.07,608.42 L382.15,608.13 L380.23,607.20 L378.45,605.67 L376.92,603.66 L375.74,601.30 L375.00,598.75 L374.75,596.19 L375.00,593.79 L375.74,591.71 L376.92,590.11 L378.45,589.07 L380.23,588.69 L382.15,588.97 L384.07,589.91 L385.85,591.44 L387.38,593.45 L388.56,595.81 L389.30,598.36 Z" fill="url(#holeg)" stroke="#444" stroke-width="0.6"/>
<polygon points="400.30,533.10 436.90,544.80 478.90,530.00 443.10,518.50" fill="#f4f4f4" stroke="#6a6a6a" stroke-width="0.8" stroke-linejoin="round" />
<polygon points="400.30,533.10 436.90,544.80 436.90,547.30 400.30,535.60" fill="#e0e0e0" stroke="#6a6a6a" stroke-width="0.7" stroke-linejoin="round" />
<polygon points="436.90,544.80 478.90,530.00 478.90,532.50 436.90,547.30" fill="#d6d6d6" stroke="#6a6a6a" stroke-width="0.7" stroke-linejoin="round" />
<path d="M409,513.7 L394,513.7 C387.5,513.7 387.5,525.3 394,525.3 L409,525.3 Z" fill="#ececec" stroke="#6a6a6a" stroke-width="0.8" stroke-linejoin="round" stroke-linecap="round" />
<path d="M466.4,513.7 L482,513.7 C489,513.7 489,525.3 482,525.3 L466.4,525.3 Z" fill="#efefef" stroke="#6a6a6a" stroke-width="0.8" stroke-linejoin="round" stroke-linecap="round" />
<path d="M472,514.5 L472,524.5 M476,514.5 L476,524.5 M480,514.5 L480,524.5" fill="none" stroke="#777" stroke-width="0.7" stroke-linejoin="round" stroke-linecap="round" />
<polygon points="420.00,524.00 440.00,517.00 458.00,524.00 440.00,533.00" fill="#f6f6f6" stroke="#777" stroke-width="0.6" stroke-linejoin="round" />
<ellipse cx="437" cy="535" rx="7" ry="6.5" fill="#f3f3f3" stroke="#777" stroke-width="0.7"/>
<ellipse cx="432" cy="527" rx="4.5" ry="4.5" fill="#fafafa" stroke="#888" stroke-width="0.6"/>
<ellipse cx="445" cy="526" rx="4.5" ry="4" fill="#fafafa" stroke="#888" stroke-width="0.6"/>
<path d="M410,532 L436,541 L474,530 M452,539 C458,537 466,535 472,533" fill="none" stroke="#666" stroke-width="0.9" stroke-linejoin="round" stroke-linecap="round" stroke-dasharray="1.6 1.1"/>
<path d="M425,528 L425,540 M452,524 L452,536" fill="none" stroke="#777" stroke-width="0.7" stroke-linejoin="round" stroke-linecap="round" />
<polygon points="414.30,469.30 424.40,469.30 424.40,484.00 414.30,484.00" fill="#303030" stroke="#222" stroke-width="0.6" stroke-linejoin="round" />
<path d="M416,473 L422,472 M416,477 L422,476 M416,481 L422,480" fill="none" stroke="#555" stroke-width="0.6" stroke-linejoin="round" stroke-linecap="round" />
<polygon points="414.00,500.00 423.00,500.00 423.00,512.00 414.00,512.00" fill="#2e2e2e" stroke="#222" stroke-width="0.6" stroke-linejoin="round" />
<polygon points="408.10,484.00 430.70,484.00 430.70,505.10 408.10,505.10" fill="#2a2a2a" stroke="#1a1a1a" stroke-width="0.6" stroke-linejoin="round" />
<polygon points="408.10,484.00 430.70,484.00 428.00,481.50 410.00,481.50" fill="#4a4a4a" stroke="#1a1a1a" stroke-width="0.5" stroke-linejoin="round" />
<linearGradient id="rod4" gradientUnits="userSpaceOnUse" x1="437.40" y1="503.26" x2="442.20" y2="517.04"><stop offset="0" stop-color="#4a4a4a"/><stop offset="0.25" stop-color="#a8a8a8"/><stop offset="0.6" stop-color="#868686"/><stop offset="1" stop-color="#4a4a4a"/></linearGradient>
<polygon points="385.25,536.89 499.15,497.19 494.35,483.41 380.45,523.11" fill="url(#rod4)"/>
<path d="M385.25,536.89 L499.15,497.19 M494.35,483.41 L380.45,523.11" stroke="#2a2a2a" stroke-width="0.8"/>
<ellipse cx="496.75" cy="490.30" rx="4.53" ry="7.30" transform="rotate(-19.22 496.75 490.30)" fill="#808080" stroke="#2a2a2a" stroke-width="0.8"/>
<ellipse cx="382.85" cy="530" rx="4.6" ry="7.3" transform="rotate(-19.2 382.85 530)" fill="#6e6e6e" stroke="#2a2a2a" stroke-width="0.8"/>
<path d="M429,497 C440,498 451,502 457,508 C464,515 466,524 462,529 C459,532 455,532.5 451,532.5" fill="none" stroke="#1e1e1e" stroke-width="6.8" stroke-linejoin="round" stroke-linecap="round" />
<path d="M433,496 C443,497.5 452,502 457,507" fill="none" stroke="#4a4a4a" stroke-width="1.0" stroke-linejoin="round" stroke-linecap="round" />
</svg>
<div class="t" style="left:157.7px;top:40.23px;font-size:25.6px;color:#7fa31d;font-weight:700;transform:scaleX(0.9075)">How</div><div class="t" style="left:213.1px;top:40.23px;font-size:25.6px;color:#7fa31d;font-weight:700;transform:scaleX(0.9375)">to</div><div class="t" style="left:240.8px;top:40.23px;font-size:25.6px;color:#7fa31d;font-weight:700;transform:scaleX(0.9179)">mount</div><div class="t" style="left:318.7px;top:40.23px;font-size:25.6px;color:#7fa31d;font-weight:700;transform:scaleX(0.9200)">onto</div><div class="t" style="left:378.3px;top:40.23px;font-size:25.6px;color:#7fa31d;font-weight:700;transform:scaleX(0.9136)">Aluminium</div><div class="t" style="left:506.7px;top:40.23px;font-size:25.6px;color:#7fa31d;font-weight:700;transform:scaleX(0.9014)">frame</div><div class="t" style="left:153.0px;top:431.11px;font-size:24.8px;color:#7fa31d;font-weight:700;transform:scaleX(0.9388)">Application</div><div class="t" style="left:178.4px;top:310.28px;font-size:24.6px;color:#1e1c1d;font-weight:700;transform:scaleX(0.9065)">Product</div><div class="t" style="left:269.8px;top:310.28px;font-size:24.6px;color:#1e1c1d;font-weight:700;transform:scaleX(0.8737)">is</div><div class="t" style="left:295.1px;top:310.28px;font-size:24.6px;color:#1e1c1d;font-weight:700;transform:scaleX(0.9287)">inserted</div><div class="t" style="left:389.1px;top:310.28px;font-size:24.6px;color:#1e1c1d;font-weight:700;transform:scaleX(0.9477)">into</div><div class="t" style="left:179.3px;top:340.28px;font-size:24.6px;color:#1e1c1d;font-weight:700;transform:scaleX(0.9370)">Aluminium</div><div class="t" style="left:306.7px;top:340.28px;font-size:24.6px;color:#1e1c1d;font-weight:700;transform:scaleX(0.9299)">frame</div><div class="t" style="left:376.7px;top:340.28px;font-size:24.6px;color:#1e1c1d;font-weight:700;transform:scaleX(0.9159)">groove.</div><div class="t" style="left:508.4px;top:308.48px;font-size:24.6px;color:#1e1c1d;font-weight:700;transform:scaleX(0.9430)">Installation</div><div class="t" style="left:637.4px;top:308.48px;font-size:24.6px;color:#1e1c1d;font-weight:700;transform:scaleX(0.9179)">by</div><div class="t" style="left:508.3px;top:338.98px;font-size:24.6px;color:#1e1c1d;font-weight:700;transform:scaleX(0.8267)">a</div><div class="t" style="left:526.7px;top:338.98px;font-size:24.6px;color:#1e1c1d;font-weight:700;transform:scaleX(0.9621)">90-degree</div><div class="t" style="left:644.0px;top:338.98px;font-size:24.6px;color:#1e1c1d;font-weight:700;transform:scaleX(0.9811)">rotation</div><div class="t" style="left:508.3px;top:393.81px;font-size:19.6px;color:#1e1c1d;font-weight:700;transform:scaleX(1.0127)">Rotating</div><div class="t" style="left:596.7px;top:393.81px;font-size:19.6px;color:#1e1c1d;font-weight:700;transform:scaleX(0.9476)">installation</div><div class="t" style="left:701.7px;top:393.81px;font-size:19.6px;color:#1e1c1d;font-weight:700;transform:scaleX(1.0758)">around</div><div class="t" style="left:508.3px;top:415.21px;font-size:19.6px;color:#1e1c1d;font-weight:700;transform:scaleX(0.9505)">clockwise</div><div class="t" style="left:603.3px;top:415.21px;font-size:19.6px;color:#1e1c1d;font-weight:700;transform:scaleX(0.9824)">and</div><div class="t" style="left:643.3px;top:415.21px;font-size:19.6px;color:#1e1c1d;font-weight:700;transform:scaleX(1.0194)">counter</div><div class="t" style="left:508.3px;top:436.71px;font-size:19.6px;color:#1e1c1d;font-weight:700;transform:scaleX(0.9505)">clockwise</div><div class="t" style="left:604.0px;top:436.71px;font-size:19.6px;color:#1e1c1d;font-weight:700;transform:scaleX(0.9310)">are</div><div class="t" style="left:637.3px;top:436.71px;font-size:19.6px;color:#1e1c1d;font-weight:700;transform:scaleX(1.0227)">available.</div>
</body></html>
